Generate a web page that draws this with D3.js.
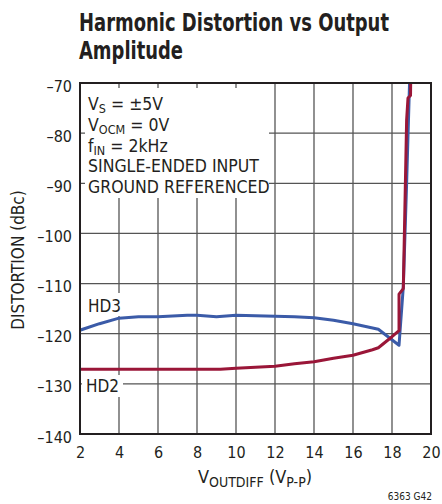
<!DOCTYPE html>
<html>
<head>
<meta charset="utf-8">
<script src="https://cdn.jsdelivr.net/npm/d3@7"></script>
<style>
  body { margin: 0; background: #fff; }
  svg text { font-family: "Liberation Sans Narrow", "DejaVu Sans Condensed", "Roboto Condensed", sans-serif; fill: #231f20; }
</style>
</head>
<body>
<div id="chart"></div>
<script>
// values
var xTicks = [2, 4, 6, 8, 10, 12, 14, 16, 18, 20];
var yTicks = [-140, -130, -120, -110, -100, -90, -80, -70];

var hd3X = [2, 3, 4, 5, 6, 7, 7.5, 8, 9, 10, 11, 12, 13, 14, 15, 16, 17.3, 18.36, 18.58, 18.75, 18.9];
var hd3Y = [-119.3, -118.0, -116.9, -116.6, -116.6, -116.4, -116.3, -116.3, -116.6, -116.3, -116.4, -116.5, -116.6, -116.8, -117.3, -118.0, -119.1, -122.3, -110.6, -90, -70];

var hd2X = [2, 4, 6, 8, 9.2, 10, 11, 12, 13, 14, 15, 16, 17, 17.3, 18, 18.36, 18.36, 18.58, 18.75, 18.82, 18.95, 18.97];
var hd2Y = [-127.1, -127.1, -127.1, -127.1, -127.1, -126.9, -126.7, -126.5, -126.0, -125.6, -124.9, -124.3, -123.2, -122.8, -120.6, -119.4, -112.1, -111.0, -77.4, -73, -72.5, -66];

var noteLines = [
  ["V", "S", " = \u00b15V"],
  ["V", "OCM", " = 0V"],
  ["f", "IN", " = 2kHz"],
  ["SINGLE-ENDED INPUT", "", ""],
  ["GROUND REFERENCED", "", ""]
];

var width = 442, height = 504;
var plotLeft = 80, plotRight = 431, plotTop = 83, plotBottom = 434;

var svg = d3.select("#chart").append("svg")
  .attr("width", width)
  .attr("height", height);

var x = d3.scaleLinear().domain([2, 20]).range([plotLeft, plotRight]);
var y = d3.scaleLinear().domain([-140, -70]).range([plotBottom, plotTop]);

// title
svg.append("text")
  .attr("x", 79).attr("y", 31)
  .attr("textLength", 310).attr("lengthAdjust", "spacingAndGlyphs")
  .style("font-size", "25px").style("font-weight", "bold")
  .text("Harmonic Distortion vs Output");
svg.append("text")
  .attr("x", 79).attr("y", 59)
  .attr("textLength", 104).attr("lengthAdjust", "spacingAndGlyphs")
  .style("font-size", "25px").style("font-weight", "bold")
  .text("Amplitude");

// grid
var grid = svg.append("g");
grid.selectAll("line.v")
  .data(xTicks.slice(1, -1))
  .enter().append("line")
  .attr("class", "v")
  .attr("x1", function (d) { return x(d); })
  .attr("x2", function (d) { return x(d); })
  .attr("y1", plotTop).attr("y2", plotBottom)
  .style("stroke", "#555").style("stroke-width", 1.3);
grid.selectAll("line.h")
  .data(yTicks.slice(1, -1))
  .enter().append("line")
  .attr("class", "h")
  .attr("y1", function (d) { return y(d); })
  .attr("y2", function (d) { return y(d); })
  .attr("x1", plotLeft).attr("x2", plotRight)
  .style("stroke", "#555").style("stroke-width", 1.3);

// white masks behind the labels
svg.append("rect").attr("x", 85).attr("y", 88).attr("width", 184).attr("height", 110).style("fill", "#fff");
svg.append("rect").attr("x", 84).attr("y", 293).attr("width", 40).attr("height", 23).style("fill", "#fff");
svg.append("rect").attr("x", 82).attr("y", 375).attr("width", 41).attr("height", 22).style("fill", "#fff");

// curves
svg.append("clipPath").attr("id", "plotclip")
  .append("rect").attr("x", plotLeft).attr("y", plotTop)
  .attr("width", plotRight - plotLeft).attr("height", plotBottom - plotTop);

var line = d3.line()
  .x(function (d) { return x(d[0]); })
  .y(function (d) { return y(d[1]); });

var curves = svg.append("g").attr("clip-path", "url(#plotclip)");
curves.append("path")
  .datum(d3.zip(hd3X, hd3Y))
  .attr("d", line)
  .style("fill", "none").style("stroke", "#3b5ba8").style("stroke-width", 3)
  .style("stroke-linejoin", "round");
curves.append("path")
  .datum(d3.zip(hd2X, hd2Y))
  .attr("d", line)
  .style("fill", "none").style("stroke", "#9a1638").style("stroke-width", 3)
  .style("stroke-linejoin", "round");

// frame
svg.append("rect")
  .attr("x", plotLeft).attr("y", plotTop)
  .attr("width", plotRight - plotLeft).attr("height", plotBottom - plotTop)
  .style("fill", "none").style("stroke", "#231f20").style("stroke-width", 2);

// axes
var xAxis = svg.append("g")
  .attr("transform", "translate(0," + plotBottom + ")")
  .call(d3.axisBottom(x).tickValues(xTicks).tickSize(0).tickPadding(13));
var yAxis = svg.append("g")
  .attr("transform", "translate(" + plotLeft + ",0)")
  .call(d3.axisLeft(y).tickValues(yTicks).tickSize(0).tickPadding(8)
    .tickFormat(function (d) { return "\u2013" + Math.abs(d); }));
[xAxis, yAxis].forEach(function (g) {
  g.select(".domain").remove();
  g.selectAll("text").style("font-size", "16px").attr("font-family", null);
});
yAxis.selectAll("text").attr("dy", "0.5em");

// axis titles
var xt = svg.append("text")
  .attr("x", 255).attr("y", 483)
  .attr("text-anchor", "middle")
  .style("font-size", "18px");
xt.append("tspan").text("V");
xt.append("tspan").attr("dy", 4).style("font-size", "14px").text("OUTDIFF");
xt.append("tspan").attr("dy", -4).text(" (V");
xt.append("tspan").attr("dy", 4).style("font-size", "14px").text("P-P");
xt.append("tspan").attr("dy", -4).text(")");

svg.append("text")
  .attr("transform", "translate(24,260) rotate(-90)")
  .attr("text-anchor", "middle")
  .style("font-size", "17px")
  .text("DISTORTION (dBc)");

// conditions block
noteLines.forEach(function (l, i) {
  var t = svg.append("text")
    .attr("x", 88).attr("y", 110 + i * 20.8)
    .style("font-size", "17.5px");
  t.append("tspan").text(l[0]);
  if (l[1]) {
    t.append("tspan").attr("dy", 3).style("font-size", "12.5px").text(l[1]);
    t.append("tspan").attr("dy", -3).text(l[2]);
  }
});

// series labels
svg.append("text").attr("x", 88).attr("y", 312).style("font-size", "17px").text("HD3");
svg.append("text").attr("x", 86).attr("y", 392).style("font-size", "17px").text("HD2");

svg.append("text").attr("x", 432).attr("y", 500).attr("text-anchor", "end")
  .style("font-size", "10px").text("6363 G42");
</script>
</body>
</html>
